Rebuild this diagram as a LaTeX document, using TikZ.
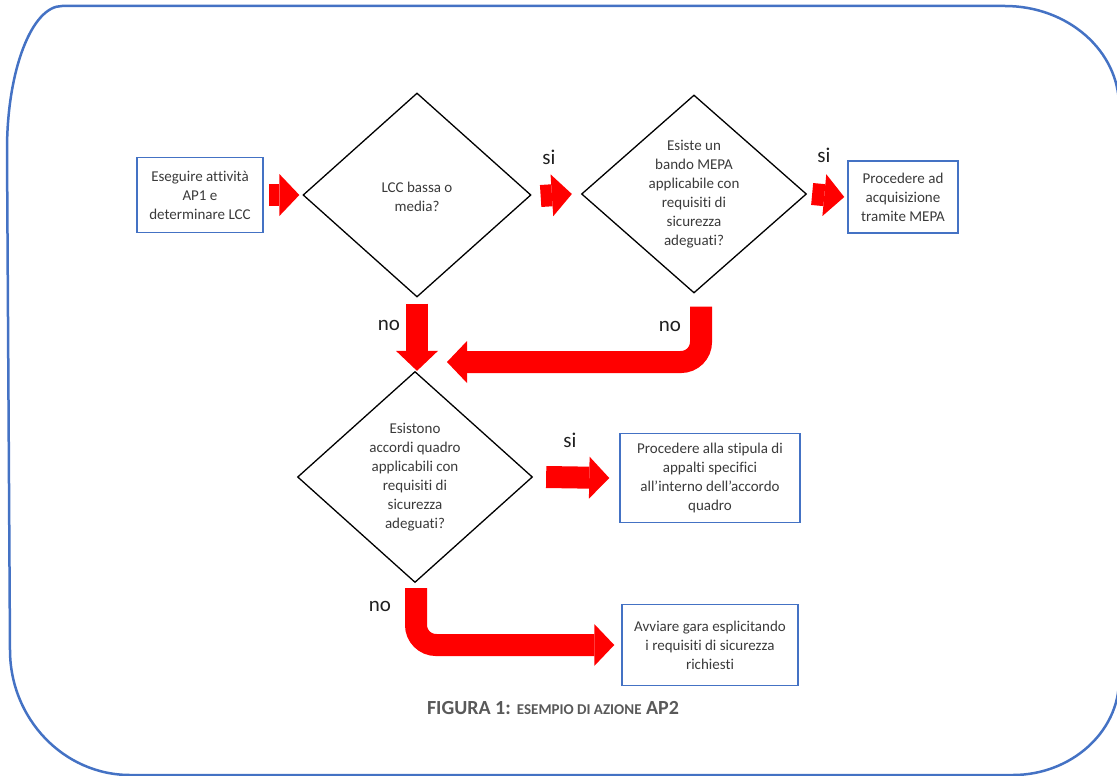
\documentclass[tikz,border=0pt]{standalone}
\usepackage{fontspec}
\setmainfont{Carlito}[Ligatures=NoCommon]
\usetikzlibrary{shapes.geometric,arrows.meta}

\definecolor{frameblue}{HTML}{4472C4}
\definecolor{arrowred}{HTML}{FF0000}
\definecolor{boxtext}{HTML}{3A3A3A}
\definecolor{labeltext}{HTML}{202020}
\definecolor{captiongray}{HTML}{595959}

\tikzset{
  actionbox/.style={draw=frameblue, line width=1.5pt, inner sep=0pt,
    align=center, text=boxtext, font=\fontsize{15}{19}\selectfont},
  decision/.style={draw=black, line width=1.3pt, shape=diamond, inner sep=0pt},
  decisiontext/.style={align=center, text=boxtext, font=\fontsize{15}{19}\selectfont},
  sino/.style={text=labeltext, font=\fontsize{21}{24}\selectfont},
  blockarrow/.style={draw=arrowred, line width=22pt,
    -{Triangle[length=20pt, width=42pt, line width=0pt]}}
}

\begin{document}
\begin{tikzpicture}[x=1pt,y=-1pt]
   \useasboundingbox (0,0) rectangle (1117,776);
   % outer frame
   \draw[frameblue, line width=2.5pt]
     (62,6) -- (1005,6)
     .. controls (1068,6) and (1119,51) .. (1119,106)
     -- (1119,680)
     .. controls (1119,732) and (1071,775) .. (1013,775)
     -- (130,775)
     .. controls (64,775) and (10,719) .. (10,650)
     -- (7,150)
     .. controls (7,70) and (32,6) .. (62,6) -- cycle;

   % boxes and decisions
   \node[actionbox, minimum width=126pt, minimum height=75pt] (b1) at (200,195)
     {Eseguire attività\\AP1 e\\determinare LCC};
   \node[decision, minimum width=228pt, minimum height=204pt] (d1) at (417,195) {};
   \node[decisiontext] (t1) at ([yshift=-2pt]d1.center) {LCC bassa o\\media?};
   \node[decision, minimum width=225pt, minimum height=198pt] (d2) at (694,194) {};
   \node[decisiontext] (t2) at (d2.center)
     {Esiste un\\bando MEPA\\applicabile con\\requisiti di\\sicurezza\\adeguati?};
   \node[actionbox, minimum width=110pt, minimum height=72pt] (b3) at (903,197)
     {Procedere ad\\acquisizione\\tramite MEPA};
   \node[decision, minimum width=235pt, minimum height=211pt] (d3) at (415,477) {};
   \node[decisiontext] (t3) at (d3.center)
     {Esistono\\accordi quadro\\applicabili con\\requisiti di\\sicurezza\\adeguati?};
   \node[actionbox, minimum width=180pt, minimum height=89pt] (b4) at (710,478)
     {Procedere alla stipula di\\appalti specifici\\all’interno dell’accordo\\quadro};
   \node[actionbox, minimum width=176pt, minimum height=81pt] (b5) at (710,645)
     {Avviare gara esplicitando\\i requisiti di sicurezza\\richiesti};
   \coordinate (back) at (447,362);

   % arrows
   \draw[blockarrow] ([xshift=5pt]b1.east) -- ([xshift=-3pt]d1.west);
   \draw[blockarrow] ([xshift=9pt,yshift=-1pt]d1.east) -- ([xshift=-9pt]d2.west);
   \draw[blockarrow] ([xshift=5pt]d2.east) -- ([xshift=-3pt]b3.west);
   \draw[blockarrow] ([yshift=-6pt]d1.south) -- (d1.south |- d3.north);
   \draw[blockarrow, rounded corners=20pt] ([xshift=7pt,yshift=-13pt]d2.south) |- (back);
   \draw[blockarrow] ([xshift=13pt]d3.east) -- ([xshift=-10pt]b4.west);
   \draw[blockarrow, rounded corners=20pt] ([xshift=1pt,yshift=-5pt]d3.south) |- ([xshift=-7pt]b5.west);

   % labels
   \node[sino] (si1) at (549,157) {si};
   \node[sino] (si2) at (824,155) {si};
   \node[sino] (no1) at (389,325) {no};
   \node[sino] (no2) at (670,326) {no};
   \node[sino] (si3) at (570,440) {si};
   \node[sino] (no3) at (380,606) {no};

   \node[text=captiongray, font=\bfseries\fontsize{20}{24}\selectfont] (cap) at (553,708)
     {FIGURA 1: {\fontsize{15}{18}\selectfont ESEMPIO DI AZIONE} AP2};
\end{tikzpicture}
\end{document}
